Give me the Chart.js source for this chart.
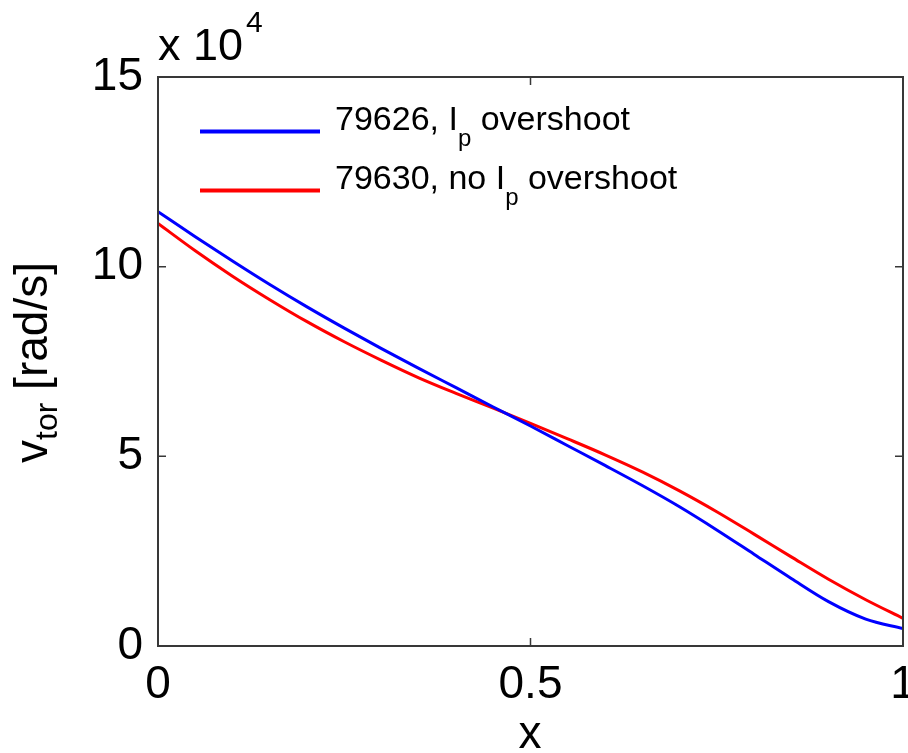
<!DOCTYPE html>
<html>
<head>
<meta charset="utf-8">
<script src="https://cdn.jsdelivr.net/npm/chart.js@4/dist/chart.umd.min.js"></script>
<style>
  html, body { margin: 0; padding: 0; background: #fff; }
  #wrap { width: 908px; height: 753px; }
</style>
</head>
<body>
<div id="wrap"><canvas id="vtor" width="908" height="753"></canvas></div>
<script>
// toroidal rotation profiles, values in units of 10^4 rad/s
const xPos = [0, 0.05, 0.1, 0.15, 0.2, 0.25, 0.3, 0.35, 0.4, 0.45, 0.5,
              0.55, 0.6, 0.65, 0.7, 0.75, 0.8, 0.85, 0.9, 0.95, 1];
const shot79626 = [11.45, 10.79, 10.15, 9.53, 8.94, 8.38, 7.84, 7.32, 6.81, 6.30, 5.80,
                   5.28, 4.76, 4.23, 3.67, 3.06, 2.42, 1.78, 1.17, 0.71, 0.46];
const shot79630 = [11.14, 10.42, 9.75, 9.13, 8.55, 8.02, 7.53, 7.07, 6.66, 6.27, 5.87,
                   5.46, 5.04, 4.59, 4.09, 3.54, 2.95, 2.35, 1.76, 1.22, 0.73];
const xTicks = [0, 0.5, 1];
const yTicks = [0, 5, 10, 15];

const FONT = '"Liberation Sans", Arial, sans-serif';
const AXIS_COLOR = '#383838';

const toPoints = (ys) => ys.map((y, i) => ({ x: xPos[i], y: y }));

// box around the plot with inward ticks on all four sides (matlab style)
const boxPlugin = {
  id: 'box',
  afterDraw(chart) {
    const { ctx, chartArea: a, scales } = chart;
    ctx.save();
    ctx.strokeStyle = AXIS_COLOR;
    ctx.lineWidth = 2;
    ctx.strokeRect(a.left, a.top, a.right - a.left, a.bottom - a.top);
    ctx.lineWidth = 1.5;
    const len = 8;
    ctx.beginPath();
    yTicks.forEach(v => {
      const py = scales.y.getPixelForValue(v);
      ctx.moveTo(a.left, py); ctx.lineTo(a.left + len, py);
      ctx.moveTo(a.right, py); ctx.lineTo(a.right - len, py);
    });
    xTicks.forEach(v => {
      const px = scales.x.getPixelForValue(v);
      ctx.moveTo(px, a.bottom); ctx.lineTo(px, a.bottom - len);
      ctx.moveTo(px, a.top); ctx.lineTo(px, a.top + len);
    });
    ctx.stroke();
    ctx.restore();
  }
};

// axis titles, exponent note and legend (they need sub/superscripts)
const textPlugin = {
  id: 'texts',
  afterDraw(chart) {
    const ctx = chart.ctx;
    ctx.save();
    ctx.fillStyle = '#000';
    ctx.textBaseline = 'alphabetic';
    ctx.textAlign = 'left';

    // exponent above the y axis
    ctx.font = '45px ' + FONT;
    ctx.fillText('x 10', 158, 60);
    ctx.font = '30px ' + FONT;
    ctx.fillText('4', 246, 32);

    // x axis title
    ctx.font = '46px ' + FONT;
    ctx.textAlign = 'center';
    ctx.fillText('x', 530, 748);
    ctx.textAlign = 'left';

    // y axis title, rotated
    ctx.translate(47, 463);
    ctx.rotate(-Math.PI / 2);
    ctx.font = '46px ' + FONT;
    let x = 0;
    ctx.fillText('v', x, 0);
    x += ctx.measureText('v').width;
    ctx.font = '32px ' + FONT;
    ctx.fillText('tor', x, 10);
    x += ctx.measureText('tor').width;
    ctx.font = '46px ' + FONT;
    ctx.fillText(' [rad/s]', x, 0);
    ctx.setTransform(1, 0, 0, 1, 0, 0);

    // legend
    const entries = [
      { color: chart.data.datasets[0].borderColor, y: 131.5, pre: '79626, I', post: ' overshoot' },
      { color: chart.data.datasets[1].borderColor, y: 190.5, pre: '79630, no I', post: ' overshoot' }
    ];
    entries.forEach(e => {
      ctx.strokeStyle = e.color;
      ctx.lineWidth = 4;
      ctx.beginPath();
      ctx.moveTo(200, e.y);
      ctx.lineTo(320, e.y);
      ctx.stroke();
      const base = e.y - 2;
      let tx = 335;
      ctx.font = '34px ' + FONT;
      ctx.fillText(e.pre, tx, base);
      tx += ctx.measureText(e.pre).width;
      ctx.font = '24px ' + FONT;
      ctx.fillText('p', tx, base + 16);
      tx += ctx.measureText('p').width;
      ctx.font = '34px ' + FONT;
      ctx.fillText(e.post, tx, base);
    });
    ctx.restore();
  }
};

new Chart(document.getElementById('vtor'), {
  type: 'line',
  data: {
    datasets: [
      {
        label: '79626, Ip overshoot',
        data: toPoints(shot79626),
        borderColor: '#0000ff',
        borderWidth: 3,
        pointRadius: 0,
        cubicInterpolationMode: 'monotone',
        fill: false
      },
      {
        label: '79630, no Ip overshoot',
        data: toPoints(shot79630),
        borderColor: '#ff0000',
        borderWidth: 3,
        pointRadius: 0,
        cubicInterpolationMode: 'monotone',
        fill: false
      }
    ]
  },
  options: {
    responsive: false,
    animation: false,
    layout: { padding: { top: 77, right: 5, left: 0, bottom: 0 } },
    plugins: {
      legend: { display: false },
      tooltip: { enabled: false }
    },
    scales: {
      x: {
        type: 'linear',
        min: 0,
        max: 1,
        grid: { display: false, drawTicks: false },
        border: { display: false },
        afterBuildTicks: (scale) => { scale.ticks = xTicks.map(v => ({ value: v })); },
        afterFit: (scale) => {
          scale.height = 107;
          scale.paddingLeft = 0;
          scale.paddingRight = 0;
        },
        ticks: {
          color: '#000',
          padding: 12,
          maxRotation: 0,
          autoSkip: false,
          font: { family: FONT, size: 46 },
          callback: (v) => String(v)
        }
      },
      y: {
        type: 'linear',
        min: 0,
        max: 15,
        grid: { display: false, drawTicks: false },
        border: { display: false },
        afterBuildTicks: (scale) => { scale.ticks = yTicks.map(v => ({ value: v })); },
        afterFit: (scale) => {
          scale.width = 158;
          scale.paddingTop = 0;
          scale.paddingBottom = 0;
        },
        ticks: {
          color: '#000',
          padding: 15,
          autoSkip: false,
          font: { family: FONT, size: 46 },
          callback: (v) => String(v)
        }
      }
    }
  },
  plugins: [boxPlugin, textPlugin]
});
</script>
</body>
</html>
